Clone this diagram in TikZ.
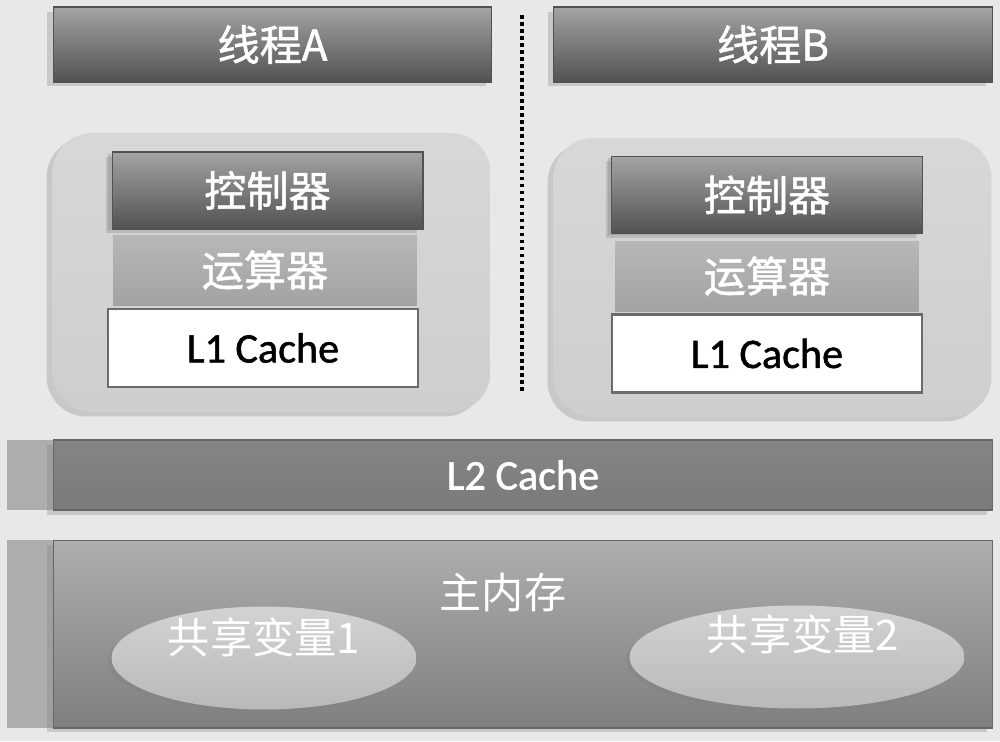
\documentclass[tikz,border=0pt]{standalone}
\usepackage{fontspec}
\setmainfont{Carlito}
\newfontfamily\cjk{Noto Sans CJK SC}
\newfontfamily\cjkbold[FakeBold=1.2]{Noto Sans CJK SC}
\newfontfamily\latinbold[FakeBold=1.2]{Carlito}
\usetikzlibrary{shapes.geometric,shadows}
\definecolor{bggray}{gray}{0.91}
\definecolor{darktop}{gray}{0.64}
\definecolor{darkbot}{gray}{0.32}
\definecolor{alugray}{gray}{0.67}
\definecolor{edgegray}{gray}{0.42}
\definecolor{stripgray}{gray}{0.68}
\definecolor{ltwotop}{gray}{0.52}
\definecolor{ltwomid}{gray}{0.62}
\definecolor{ltwobot}{gray}{0.48}
\definecolor{memtop}{gray}{0.68}
\definecolor{membot}{gray}{0.50}
\tikzset{shade/.style={drop shadow={shadow xshift=-1.2mm, shadow yshift=-0.9mm, opacity=0.3}}}
\tikzset{thread/.style={shade, draw=darkbot, line width=0.6pt, top color=darktop, bottom color=darkbot, minimum width=8.78cm, minimum height=1.5cm, text=white, font=\cjkbold\fontsize{24}{28}\selectfont}}
\tikzset{panel/.style={shade, top color={gray!8!white!88!black}, bottom color={gray!10!white!85!black}, rounded corners=0.8cm, minimum width=8.76cm, minimum height=5.58cm}}
\tikzset{ctrl/.style={thread, minimum width=6.22cm, minimum height=1.54cm, drop shadow={shadow xshift=-0.8mm, shadow yshift=-0.3mm, opacity=0.3}}}
\tikzset{alu/.style={top color=alugray!85!white, bottom color=alugray!95!black, minimum width=6.08cm, minimum height=1.4cm, text=white, font=\cjkbold\fontsize{24}{28}\selectfont}}
\tikzset{lone/.style={draw=edgegray, line width=1.5pt, fill=white, minimum width=6.2cm, minimum height=1.56cm, font=\latinbold\fontsize{24}{28}\selectfont}}
\tikzset{level/.style={shade, draw=gray!80!black, line width=0.6pt, minimum width=18.8cm, text=white}}
\tikzset{strip/.style={fill=stripgray, draw=none}}
\tikzset{var/.style={ellipse, top color=gray!35!white, bottom color=gray!55!white, drop shadow={shadow xshift=-0.8mm, shadow yshift=-0.6mm, opacity=0.35}, minimum height=2.06cm, inner sep=0pt}}
\tikzset{vartext/.style={text=white, font=\cjk\fontsize{24}{28}\selectfont}}
\tikzset{sep/.style={line width=2pt, dash pattern=on 2pt off 2pt}}

\begin{document}
\begin{tikzpicture}[x=0.02cm, y=-0.02cm]
\useasboundingbox[fill=bggray] (0,0) rectangle (1000,741);
% threads
\node[thread] (thrA) at (272.5,44.5) {线程A};
\node[thread] (thrB) at (773,44.5) {线程B};
\coordinate (septop) at (522,15);
\coordinate (sepbot) at (522,392);
\draw[sep] (septop) -- (sepbot);
% cores
\node[panel] (coreA) at (271.5,272.5) {};
\node[panel] (coreB) at (772.5,277.5) {};
\node[ctrl] (ctrlA) at (267.5,190.5) {控制器};
\node[alu] (aluA) at (265,270) {运算器};
\node[lone] (loneA) at (263,348) {L1 Cache};
\node[ctrl] (ctrlB) at (767,195) {控制器};
\node[alu] (aluB) at (767,276) {运算器};
\node[lone] (loneB) at (767,353.5) {L1 Cache};
% caches and memory
\fill[strip] (7,440) rectangle (53,510);
\fill[strip] (7,540) rectangle (53,728);
\node[level, top color=ltwotop, middle color=ltwomid, bottom color=ltwobot, minimum height=1.4cm, font=\latinbold\fontsize{24}{28}\selectfont] (ltwo) at (523,475) {L2 Cache};
\node[level, top color=memtop, bottom color=membot, minimum height=3.76cm] (mem) at (523,634) {};
\node[vartext] (memtitle) at (503,593) {主内存};
\node[var, minimum width=6.1cm] (varA) at (264,658) {};
\node[vartext] (varAtext) at ([yshift=0.42cm]varA.center) {共享变量1};
\node[var, minimum width=6.7cm] (varB) at (797,657) {};
\node[vartext] (varBtext) at ([xshift=0.12cm, yshift=0.46cm]varB.center) {共享变量2};
\end{tikzpicture}
\end{document}
